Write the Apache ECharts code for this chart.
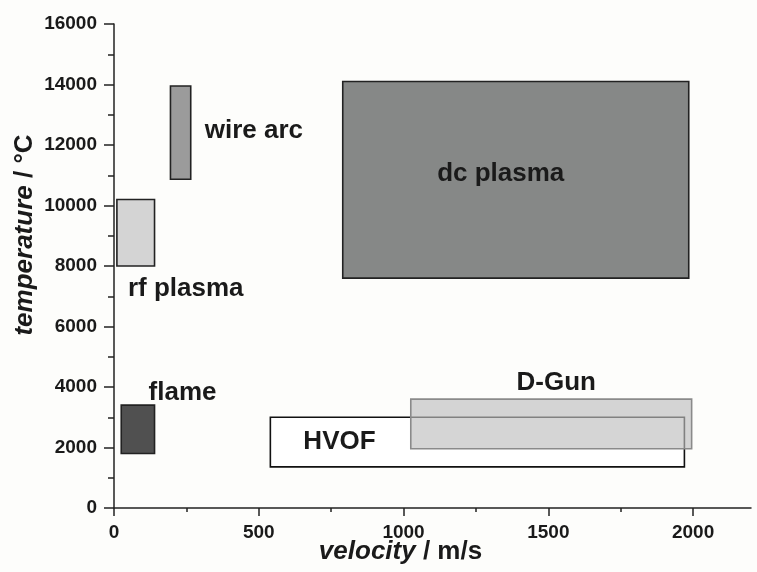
<!DOCTYPE html>
<html lang="en" style="height: 100%">
<head>
    <meta charset="utf-8">
    <script type="text/javascript" src="https://cdn.jsdelivr.net/npm/echarts@6/dist/echarts.min.js"></script>
</head>
<body style="height: 100%; margin: 0; background: #fdfdfb">
    <div id="main" style="height: 572px; width: 757px"></div>

    <script type="text/javascript">
        // spray processes: velocity range (m/s) and temperature range (°C)
        var processes = ['wire arc', 'rf plasma', 'dc plasma', 'flame', 'HVOF', 'D-Gun'];
        var velMin  = [195, 10, 790, 25, 540, 1025];
        var velMax  = [265, 140, 1985, 140, 1970, 1995];
        var tempMin = [10870, 8000, 7600, 1800, 1360, 1960];
        var tempMax = [13950, 10200, 14100, 3400, 3000, 3600];

        var xTicks = [0, 500, 1000, 1500, 2000];
        var xMinor = [250, 750, 1250, 1750];

        // look of each box
        var fills   = ['#9b9b9b', '#d4d4d4', '#868887', '#505050', '#ffffff', 'rgba(190,190,190,0.65)'];
        var strokes = ['#222', '#222', '#222', '#222', '#111', '#8a8a8a'];
        // where the name sits relative to its box: fraction of box, pixel offset, align
        var labelPlace = [
            { f: [1, 0.5], d: [14, -2], align: 'left' },
            { f: [0, 1], d: [11, 23], align: 'left' },
            { f: [0.5, 0.5], d: [-15, -6], align: 'center' },
            { f: [1, 0], d: [-6, -12], align: 'left' },
            { f: [0, 0.5], d: [33, 0], align: 'left' },
            { f: [0.5, 0], d: [5, -16], align: 'center' }
        ];

        var font = 'Liberation Sans, Arial, sans-serif';
        var ink = '#1a1a1a';

        var boxData = processes.map(function (name, i) {
            return [velMin[i], velMax[i], tempMin[i], tempMax[i], i];
        });

        function plain(v) { return String(v); }

        var chart = echarts.init(document.getElementById('main'));
        var option = {
            backgroundColor: '#fdfdfb',
            animation: false,
            grid: { left: 114, right: 6, top: 24, bottom: 64, outerBoundsMode: 'none', containLabel: false },
            xAxis: [{
                type: 'value',
                min: 0,
                max: 2200,
                interval: 500,
                name: '{i|velocity} / m/s',
                nameLocation: 'middle',
                nameGap: 31,
                nameMoveOverlap: false,
                nameTextStyle: {
                    fontFamily: font, fontSize: 26, fontWeight: 'bold', color: ink,
                    padding: [0, 64, 0, 0],
                    rich: { i: { fontFamily: font, fontSize: 26, fontWeight: 'bold', fontStyle: 'italic', color: ink } }
                },
                axisLine: { lineStyle: { color: '#222', width: 1.5 } },
                axisTick: { length: 8, customValues: xTicks, lineStyle: { color: '#222', width: 1.5 } },
                axisLabel: { customValues: xTicks, formatter: plain, margin: 15, fontFamily: font, fontSize: 19, fontWeight: 'bold', color: ink },
                splitLine: { show: false }
            }, {
                type: 'value',
                position: 'bottom',
                min: 0,
                max: 2200,
                axisLine: { show: false },
                axisTick: { length: 4, customValues: xMinor, lineStyle: { color: '#222', width: 1.5 } },
                axisLabel: { show: false },
                splitLine: { show: false }
            }],
            yAxis: {
                type: 'value',
                min: 0,
                max: 16000,
                interval: 2000,
                name: '{i|temperature} / °C',
                nameLocation: 'middle',
                nameGap: 76,
                nameMoveOverlap: false,
                nameTextStyle: {
                    fontFamily: font, fontSize: 26, fontWeight: 'bold', color: ink,
                    padding: [0, 0, 0, 62],
                    rich: { i: { fontFamily: font, fontSize: 26, fontWeight: 'bold', fontStyle: 'italic', color: ink } }
                },
                axisLine: { show: true, lineStyle: { color: '#222', width: 1.5 } },
                axisTick: { show: true, length: 10, lineStyle: { color: '#222', width: 1.5 } },
                minorTick: { show: true, splitNumber: 2, length: 6, lineStyle: { color: '#222', width: 1.5 } },
                axisLabel: { formatter: plain, margin: 17, fontFamily: font, fontSize: 19, fontWeight: 'bold', color: ink },
                splitLine: { show: false }
            },
            series: [{
                type: 'custom',
                xAxisIndex: 0,
                data: boxData,
                encode: { x: [0, 1], y: [2, 3] },
                renderItem: function (params, api) {
                    var i = api.value(4);
                    var p0 = api.coord([api.value(0), api.value(3)]);
                    var p1 = api.coord([api.value(1), api.value(2)]);
                    var w = p1[0] - p0[0], h = p1[1] - p0[1];
                    var pl = labelPlace[i];
                    return {
                        type: 'group',
                        children: [{
                            type: 'rect',
                            shape: { x: p0[0], y: p0[1], width: w, height: h },
                            style: { fill: fills[i], stroke: strokes[i], lineWidth: 1.6 }
                        }, {
                            type: 'text',
                            x: p0[0] + w * pl.f[0] + pl.d[0],
                            y: p0[1] + h * pl.f[1] + pl.d[1],
                            style: {
                                text: processes[i],
                                fill: ink,
                                font: 'bold 26px ' + font,
                                align: pl.align,
                                verticalAlign: 'middle'
                            }
                        }]
                    };
                }
            }]
        };
        chart.setOption(option);
    </script>
</body>
</html>
